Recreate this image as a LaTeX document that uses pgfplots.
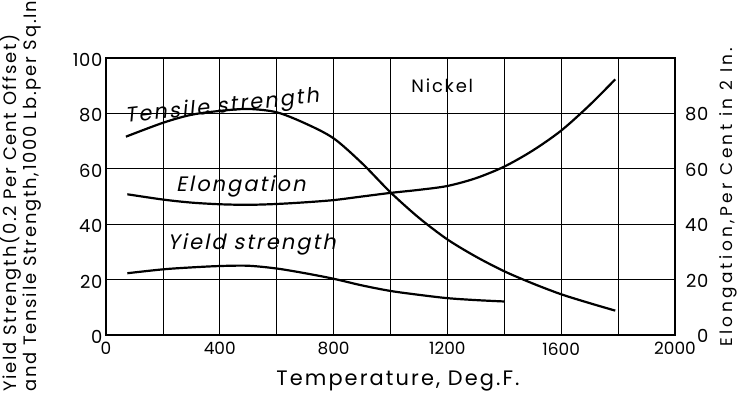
\documentclass[border=0pt]{standalone}
\usepackage{pgfplots}
\pgfplotsset{compat=1.18}
\usepackage{fontspec}
\setmainfont{Poppins}[LetterSpace=10]
\newfontfamily\slfont{Poppins}[FakeSlant=0.2, LetterSpace=10]
\newfontfamily\widefont{Poppins}[LetterSpace=20]
\newfontfamily\tickfont{Poppins}[LetterSpace=4]
\newfontfamily\xtickfont{Poppins}[LetterSpace=0]
\begin{document}
\begin{tikzpicture}
\begin{axis}[
  scale only axis, width=569bp, height=277bp,
  xmin=0, xmax=2000, ymin=0, ymax=100,
  xtick={0,400,...,2000}, minor xtick={200,600,...,1800},
  ytick={0,20,...,100},
  grid=both,
  major grid style={black, line width=0.7bp},
  minor grid style={black, line width=0.7bp},
  axis line style={black, line width=1.3bp},
  tick style={draw=none},
  yticklabel style={font=\tickfont\fontsize{18}{18}\selectfont, yshift=-2bp},
  xticklabel style={font=\xtickfont\fontsize{17}{17}\selectfont, yshift=-4bp},
  /pgf/number format/assume math mode=true,
  /pgf/number format/1000 sep={},
  clip=false,
]
\addplot[black, line width=2.2bp, smooth] coordinates {
 (70,71.6) (200,76.6) (300,79.5) (400,80.9) (500,81.6) (600,80.4) (700,76.4)
 (800,71) (900,62) (1000,51.5) (1100,42.3) (1200,34.5) (1300,28.3) (1400,23)
 (1500,18.6) (1600,14.7) (1700,11.5) (1790,8.8)};
\addplot[black, line width=2.2bp, smooth] coordinates {
 (75,50.8) (200,48.9) (300,47.8) (400,47.2) (500,47) (600,47.3) (700,47.9)
 (800,48.7) (900,50) (1000,51.3) (1100,52.4) (1200,53.8) (1300,56.6) (1400,60.8)
 (1500,66.6) (1600,73.8) (1700,83) (1790,92.3)};
\addplot[black, line width=2.2bp, smooth] coordinates {
 (75,22.3) (200,23.7) (300,24.4) (400,24.9) (500,25) (600,24) (700,22.3)
 (800,20.3) (900,17.9) (1000,15.9) (1100,14.5) (1200,13.3) (1300,12.6) (1400,12.1)};
\node[rotate=6, anchor=base, font=\slfont\fontsize{21}{21}\selectfont] at (axis cs:410,80.3) {Tensile strength};
\node[anchor=center, font=\slfont\fontsize{21}{21}\selectfont] at (axis cs:474,53.6) {Elongation};
\node[anchor=center, font=\slfont\fontsize{21}{21}\selectfont] at (axis cs:512,32.7) {Yield strength};
\node[anchor=center, font=\fontsize{18}{18}\selectfont] at (axis cs:1182,90) {Nickel};
\end{axis}
\begin{axis}[
  scale only axis, width=569bp, height=277bp,
  xmin=0, xmax=2000, ymin=0, ymax=100,
  axis y line*=right, axis x line=none,
  ytick={0,20,...,80},
  axis line style={black, line width=1.3bp},
  tick style={draw=none},
  ticklabel style={font=\tickfont\fontsize{18}{18}\selectfont},
  yticklabel style={anchor=east, yshift=-1bp, xshift=37bp},
  /pgf/number format/assume math mode=true,
]
\end{axis}
\node[rotate=90, anchor=south west, inner sep=0pt, align=left, font=\fontsize{18}{21}\selectfont]
  at ([shift={(-64bp,-57bp)}]current axis.south west)
  {Yield Strength(0.2 Per Cent Offset)\\and Tensile Strength,1000 Lb.per Sq.In};
\node[rotate=90, anchor=south west, inner sep=0pt, font=\widefont\fontsize{17}{17}\selectfont]
  at ([shift={(631bp,-12bp)}]current axis.south west) {Elongation,Per Cent in 2 In.};
\node[anchor=base, font=\fontsize{21}{21}\selectfont]
  at ([shift={(292bp,-50bp)}]current axis.south west) {Temperature, Deg.F.};
\pgfresetboundingbox
\path[use as bounding box] ([shift={(-106bp,-58bp)}]current axis.south west) rectangle ([shift={(62bp,58bp)}]current axis.north east);
\end{tikzpicture}
\end{document}
